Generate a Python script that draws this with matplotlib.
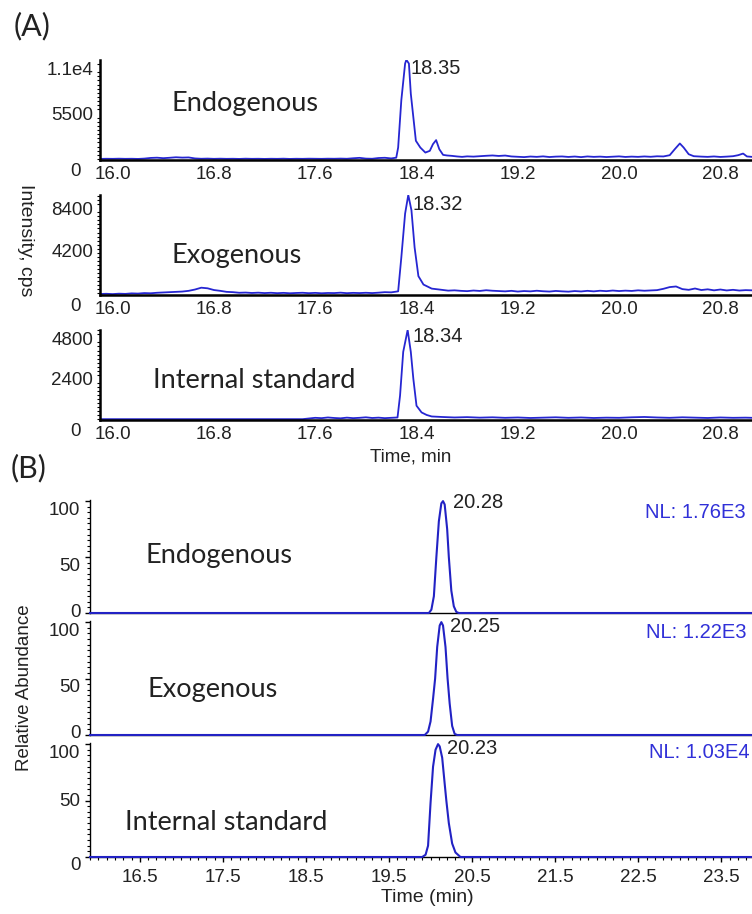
import matplotlib
matplotlib.use("Agg")
import matplotlib.pyplot as plt
from matplotlib.ticker import MultipleLocator

plt.rcParams['font.family'] = ['Liberation Sans', 'DejaVu Sans']

# ---- panel A (intensity, cps) ----
t_endo = [15.90, 15.95, 16.00, 16.05, 16.10, 16.15, 16.20, 16.25, 16.30, 16.35,
          16.40, 16.45, 16.50, 16.55, 16.60, 16.65, 16.70, 16.75, 16.80, 16.85,
          16.90, 16.95, 17.00, 17.05, 17.10, 17.15, 17.20, 17.25, 17.30, 17.35,
          17.40, 17.45, 17.50, 17.55, 17.60, 17.65, 17.70, 17.75, 17.80, 17.85,
          17.90, 17.95, 18.00, 18.05, 18.10, 18.15, 18.20,
          18.24, 18.255, 18.28, 18.31, 18.32, 18.34, 18.355, 18.375, 18.395, 18.43,
          18.47, 18.505, 18.53, 18.555, 18.58, 18.61, 18.64, 18.68, 18.72, 18.76,
          18.80, 18.85, 18.90, 18.95, 19.00, 19.05, 19.10, 19.15, 19.20, 19.25,
          19.30, 19.35, 19.40, 19.45, 19.50, 19.55, 19.60, 19.65, 19.70, 19.75,
          19.80, 19.85, 19.90, 19.95, 20.00, 20.05, 20.10, 20.15, 20.20, 20.25,
          20.30, 20.35, 20.40,
          20.44, 20.48, 20.51, 20.55, 20.59,
          20.65, 20.70, 20.75, 20.80, 20.85, 20.90,
          20.94, 20.98, 21.01, 21.05]
y_endo = [0, 20, 10, 30, 10, 20, 0, 40, 120, 150,
          90, 140, 200, 160, 180, 60, 20, 40, 10, 30,
          10, 20, 0, 30, 10, 20, 0, 20, 10, 30,
          0, 20, 10, 30, 20, 10, 30, 20, 40, 20,
          80, 130, 40, 20, 110, 140, 60,
          150, 1380, 7100, 11550, 12000, 11550, 7900, 5050, 2200, 1380,
          770, 980, 1790, 2280, 1180, 490, 420, 370, 300, 250,
          310, 280, 330, 380, 420, 360, 410, 300, 260, 220,
          290, 250, 310, 230, 280, 300, 240, 290, 220, 300,
          250, 280, 230, 270, 310, 240, 280, 250, 300, 260,
          320, 300, 450,
          1180, 1870, 1380, 570, 330,
          280, 250, 300, 240, 280, 330,
          450, 650, 300, 250]

t_exo = [15.90, 15.95, 16.00, 16.05, 16.10, 16.15, 16.20, 16.25, 16.30, 16.35,
         16.40, 16.45, 16.50, 16.55, 16.60, 16.65, 16.70,
         16.75, 16.80, 16.85, 16.90, 16.95, 17.00, 17.05, 17.10, 17.15, 17.20,
         17.25, 17.30, 17.35, 17.40, 17.45, 17.50, 17.55, 17.60, 17.65, 17.70,
         17.75, 17.80, 17.85, 17.90, 17.95, 18.00, 18.05, 18.10, 18.15, 18.20,
         18.255, 18.28, 18.31, 18.335, 18.36, 18.385, 18.415, 18.455, 18.52, 18.58,
         18.65, 18.70,
         18.75, 18.80, 18.85, 18.90, 18.95, 19.00, 19.05, 19.10, 19.15, 19.20,
         19.25, 19.30, 19.35, 19.40, 19.45, 19.50, 19.55, 19.60, 19.65, 19.70,
         19.75, 19.80, 19.85, 19.90, 19.95, 20.00, 20.05, 20.10, 20.15, 20.20,
         20.25, 20.30, 20.35, 20.40, 20.45, 20.50, 20.55, 20.60, 20.65, 20.70,
         20.75, 20.80, 20.85, 20.90, 20.95, 21.00, 21.05]
y_exo = [-60, -40, -70, -30, -50, 0, -20, 30, 10, 60,
         90, 120, 150, 180, 250, 380, 560,
         500, 330, 250, 150, 120, 60, 80, 40, 70, 30,
         60, 20, 50, 10, 40, 60, 20, 50, 10, 40,
         30, 70, 20, 50, 30, 60, 30, 70, 120, 100,
         200, 3530, 7870, 9700, 8200, 4530, 1700, 870, 470, 380,
         270, 300,
         250, 220, 280, 240, 310, 260, 230, 200, 250, 180,
         230, 200, 260, 210, 180, 240, 200, 170, 230, 190,
         250, 200, 260, 220, 280, 230, 270, 240, 300, 260,
         290, 320, 450, 620, 680, 420, 350, 480, 330, 400,
         300, 380, 290, 350, 280, 320, 300]

t_is = [15.90, 16.50, 17.00, 17.50,
        17.55, 17.60, 17.65, 17.70, 17.75, 17.80, 17.85, 17.90, 17.95, 18.00,
        18.05, 18.10, 18.15, 18.20,
        18.25, 18.27, 18.295, 18.33, 18.355, 18.375, 18.40, 18.44, 18.48, 18.52,
        18.60, 18.70, 18.80, 18.90, 19.00, 19.10, 19.20, 19.30, 19.40, 19.50,
        19.60, 19.70, 19.80, 19.90, 20.00, 20.10, 20.20, 20.30, 20.40, 20.50,
        20.60, 20.70, 20.80, 20.90, 21.00, 21.05]
y_is = [0, 0, 0, 0,
        40, 80, 60, 100, 70, 50, 90, 60, 80, 110,
        70, 90, 60, 80,
        100, 1400, 4000, 5300, 4000, 2400, 800, 400, 250, 160,
        130, 100, 120, 90, 110, 80, 100, 70, 90, 110,
        80, 100, 70, 90, 80, 110, 130, 100, 80, 110,
        90, 70, 100, 80, 90, 80]

a_xticks = [16.0, 16.8, 17.6, 18.4, 19.2, 20.0, 20.8]

# ---- panel B (relative abundance) ----
t_b_endo = [15.90, 19.98, 20.01, 20.04, 20.07, 20.10, 20.13, 20.15, 20.17, 20.20,
            20.22, 20.25, 20.28, 20.31, 20.34, 23.90]
y_b_endo = [0, 0, 3, 15, 50, 82, 98, 100, 97, 75, 50, 20, 6, 1, 0, 0]

t_b_exo = [15.90, 19.93, 19.97, 20.00, 20.03, 20.055, 20.08, 20.11, 20.13, 20.15,
           20.18, 20.205, 20.23, 20.26, 20.29, 20.32, 23.90]
y_b_exo = [0, 0, 3, 12, 32, 50, 78, 97, 100, 97, 78, 50, 28, 8, 1, 0, 0]

t_b_is = [15.90, 19.90, 19.94, 19.97, 20.00, 20.03, 20.06, 20.09, 20.11, 20.14,
          20.17, 20.19, 20.22, 20.26, 20.30, 20.36, 23.90]
y_b_is = [0, 0, 2, 10, 48, 80, 95, 100, 98, 88, 65, 50, 30, 12, 4, 0, 0]

b_xticks = [16.5, 17.5, 18.5, 19.5, 20.5, 21.5, 22.5, 23.5]
b_yticks = [0, 50, 100]

samples = ["Endogenous", "Exogenous", "Internal standard"]
a_peaks = ["18.35", "18.32", "18.34"]
b_peaks = ["20.28", "20.25", "20.23"]
b_nl = ["NL: 1.76E3", "NL: 1.22E3", "NL: 1.03E4"]

W, H = 752, 914
BLUE = '#2626d2'
TXT = '#222222'
CAL = ['Lato', 'DejaVu Sans']

fig = plt.figure(figsize=(W / 100, H / 100), dpi=100)


def add_ax(left, top, right, bottom):
    return fig.add_axes([left / W, 1 - bottom / H, (right - left) / W, (bottom - top) / H])


def ftext(x, y, s, **kw):
    kw.setdefault('color', TXT)
    fig.text(x / W, 1 - y / H, s, **kw)


# panel A axes
a_rows = [(60, 160), (195, 295), (330, 420)]
a_data = [(t_endo, y_endo, (-130, 11980), [5500, 11000], ["5500", "1.1e4"], 500),
          (t_exo, y_exo, (-160, 9700), [4200, 8400], ["4200", "8400"], 400),
          (t_is, y_is, (-50, 5300), [2400, 4800], ["2400", "4800"], 240)]

for (top, bot), (t, y, ylim, yt, ytl, mstep) in zip(a_rows, a_data):
    ax = add_ax(100, top, W, bot)
    ax.plot(t, y, color=BLUE, lw=1.3)
    ax.set_xlim(15.9, 21.05)
    ax.set_ylim(*ylim)
    for s in ['top', 'right']:
        ax.spines[s].set_visible(False)
    for s in ['left', 'bottom']:
        ax.spines[s].set_linewidth(1.8)
    ax.set_xticks(a_xticks, [f"{v:.1f}" for v in a_xticks])
    ax.tick_params(axis='x', length=0, pad=4, labelsize=13.5, labelcolor=TXT)
    ax.set_yticks(yt, ytl)
    ax.yaxis.set_minor_locator(MultipleLocator(mstep))
    ax.tick_params(axis='y', which='major', length=0, pad=5, labelsize=13.5, labelcolor=TXT)
    ax.tick_params(axis='y', which='minor', length=2.5, width=0.8)
    ax.annotate("0", xy=(0, 0), xycoords='axes fraction', xytext=(-14, -8.6),
                textcoords='offset points', ha='right', va='center', fontsize=13.5, color=TXT)

# panel B axes
b_rows = [(500, 613), (621, 735), (743, 857)]
b_data = [(t_b_endo, y_b_endo), (t_b_exo, y_b_exo), (t_b_is, y_b_is)]
# downward nudges (points) of the 0 / 50 / 100 labels, as placed in the original
b_label_dy = [(-0.7, 7, 6.5), (-1.4, 6.5, 7), (5.8, 1, 6.5)]

for i, ((top, bot), (t, y)) in enumerate(zip(b_rows, b_data)):
    ax = add_ax(90, top, W, bot)
    ax.plot(t, y, color='#2222c4', lw=1.5, clip_on=False, zorder=3)
    ax.set_xlim(15.9, 23.87)
    ax.set_ylim(0, 101)
    for s in ['top', 'right']:
        ax.spines[s].set_visible(False)
    for s in ['left', 'bottom']:
        ax.spines[s].set_linewidth(1.0)
    ax.set_yticks(b_yticks, ["", "", ""])
    ax.yaxis.set_minor_locator(MultipleLocator(5))
    ax.tick_params(axis='y', which='major', length=3.5, width=1)
    ax.tick_params(axis='y', which='minor', length=2, width=0.8)
    for v, dy in zip(b_yticks, b_label_dy[i]):
        ax.annotate(str(v), xy=(0, v), xycoords=('axes fraction', 'data'),
                    xytext=(-7, -dy), textcoords='offset points',
                    ha='right', va='center', fontsize=13.5, color=TXT)
    if i == 2:
        ax.set_xticks(b_xticks, [f"{v:.1f}" for v in b_xticks])
        ax.xaxis.set_minor_locator(MultipleLocator(0.1))
        ax.tick_params(axis='x', which='major', length=3.5, width=1, pad=5, labelsize=13.5, labelcolor=TXT)
        ax.tick_params(axis='x', which='minor', length=2.2, width=0.8)
    else:
        ax.set_xticks([])

# sample names
for (x, y), s in zip([(172, 103), (172, 255), (153, 380)], samples):
    ftext(x, y, s, family=CAL, fontsize=19.5, va='center')
for (x, y), s in zip([(145, 555), (147, 690), (125, 822)], samples):
    ftext(x, y, s, family=CAL, fontsize=19.5, va='center')

# peak labels
for (x, y), s in zip([(410, 68), (413, 205), (413, 337)], a_peaks):
    ftext(x, y, s, fontsize=14.5, va='center')
for (x, y), s in zip([(453, 503), (450, 627), (447, 748)], b_peaks):
    ftext(x, y, s, fontsize=14.5, va='center')
for (x, y), s in zip([(746, 513), (746, 632), (750, 753)], b_nl):
    ftext(x, y, s, fontsize=14.5, va='center', ha='right', color='#3030d8')

# panel letters and axis titles
ftext(14, 26, "(A)", family=CAL, fontsize=22, va='center')
ftext(11, 468, "(B)", family=CAL, fontsize=22, va='center')
ftext(25, 240, "Intensity, cps", fontsize=14, rotation=270, ha='center', va='center')
ftext(411, 457, "Time, min", fontsize=13.5, ha='center', va='center')
ftext(25, 688, "Relative Abundance", fontsize=13.5, rotation=90, ha='center', va='center')
ftext(427, 898, "Time (min)", fontsize=14, ha='center', va='center')

fig.savefig("out.png", dpi=100)
